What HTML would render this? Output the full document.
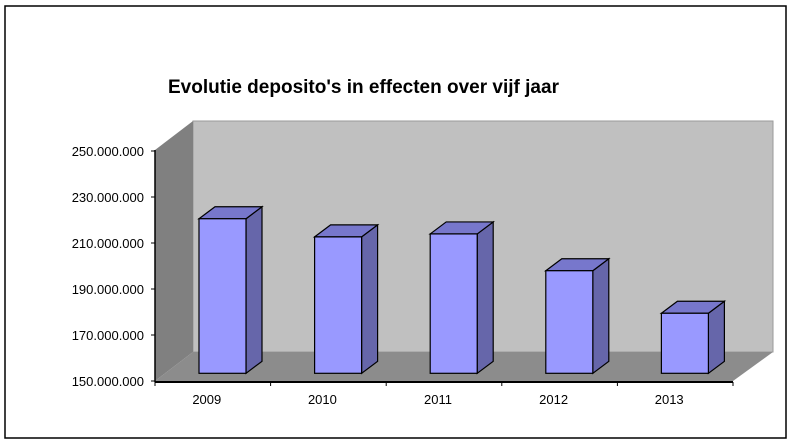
<!DOCTYPE html>
<html><head><meta charset="utf-8"><style>
html,body{margin:0;padding:0;background:#fff;}
svg{display:block;font-family:"Liberation Sans",Arial,sans-serif;}
</style></head><body>
<svg id="chart" width="792" height="444" viewBox="0 0 792 444">
<rect x="5" y="6" width="781" height="432" fill="#fff" stroke="#000" stroke-width="1.5"/>
<text x="168" y="93" font-size="19" font-weight="bold">Evolutie deposito's in effecten over vijf jaar</text>
<polygon points="193,121 773,121 773,352 193,352" fill="#c0c0c0" stroke="#9a9a9a"/>
<polygon points="155,150 193,121 193,352 155,381" fill="#808080"/>
<polygon points="155,381 193,352 773,352 733,381" fill="#8c8c8c"/>
<g id="axes"></g>
<g id="bars"></g>
</svg>
<script>
const categories = ["2009","2010","2011","2012","2013"];
const values = [217.2, 209.3, 210.6, 194.6, 176.1];
const tickValues = [150,170,190,210,230,250];
const tickLabels = ["150.000.000","170.000.000","190.000.000","210.000.000","230.000.000","250.000.000"];
const NS="http://www.w3.org/2000/svg";
const X0=155, X1=733, YB=381, PX=2.3;
const bw=(X1-X0)/categories.length;
function yAxis(v){return YB-(v-150)*PX;}
function yBar(v){return 373.3-(v-150)*PX;}
function mk(tag,attrs,parent){const e=document.createElementNS(NS,tag);for(const k in attrs)e.setAttribute(k,attrs[k]);parent.appendChild(e);return e;}
const axes=document.getElementById('axes'), bars=document.getElementById('bars');
let ax=mk('line',{x1:155,y1:150,x2:155,y2:382,stroke:'#000','stroke-width':1.5},axes);


let bx=mk('line',{x1:155,y1:382,x2:733,y2:382,stroke:'#000','stroke-width':2},axes);


tickValues.forEach((v,i)=>{
  const y=yAxis(v);
  const t=mk('line',{x1:151,y1:y,x2:155,y2:y,stroke:'#000'},axes);
  
  
  const l=mk('text',{x:144,y:y+5,'font-size':13,'text-anchor':'end'},axes);
  l.textContent=tickLabels[i];
  
  
});
for(let i=0;i<=categories.length;i++){
  const x=X0+i*bw;
  const t=mk('line',{x1:x,y1:382,x2:x,y2:386,stroke:'#000'},axes);
  
  
}
categories.forEach((c,i)=>{
  const l=mk('text',{x:X0+(i+0.5)*bw-6,y:404,'font-size':13,'text-anchor':'middle'},axes);
  l.textContent=c;
  
  
  const x=X0+i*bw+44-bw/2+bw/2-44+44-44+44-44; // base
  const left=X0+i*bw+44-44+44-44+44, right=left+47;
  const fl=X0+i*bw+(199-155), fr=fl+47;
  const top=yBar(values[i]), bot=373.3, dx=16, dy=12;
  const g=mk('g',{},bars);
  
  
  mk('polygon',{points:`${fr},${top} ${fr+dx},${top-dy} ${fr+dx},${bot-dy} ${fr},${bot}`,fill:'#6666aa',stroke:'#000','stroke-width':1.2},g);
  mk('polygon',{points:`${fl},${top} ${fl+dx},${top-dy} ${fr+dx},${top-dy} ${fr},${top}`,fill:'#7777cc',stroke:'#000','stroke-width':1.2},g);
  mk('rect',{x:fl,y:top,width:47,height:bot-top,fill:'#9999ff',stroke:'#000','stroke-width':1.2},g);
});
</script>
</body></html>
